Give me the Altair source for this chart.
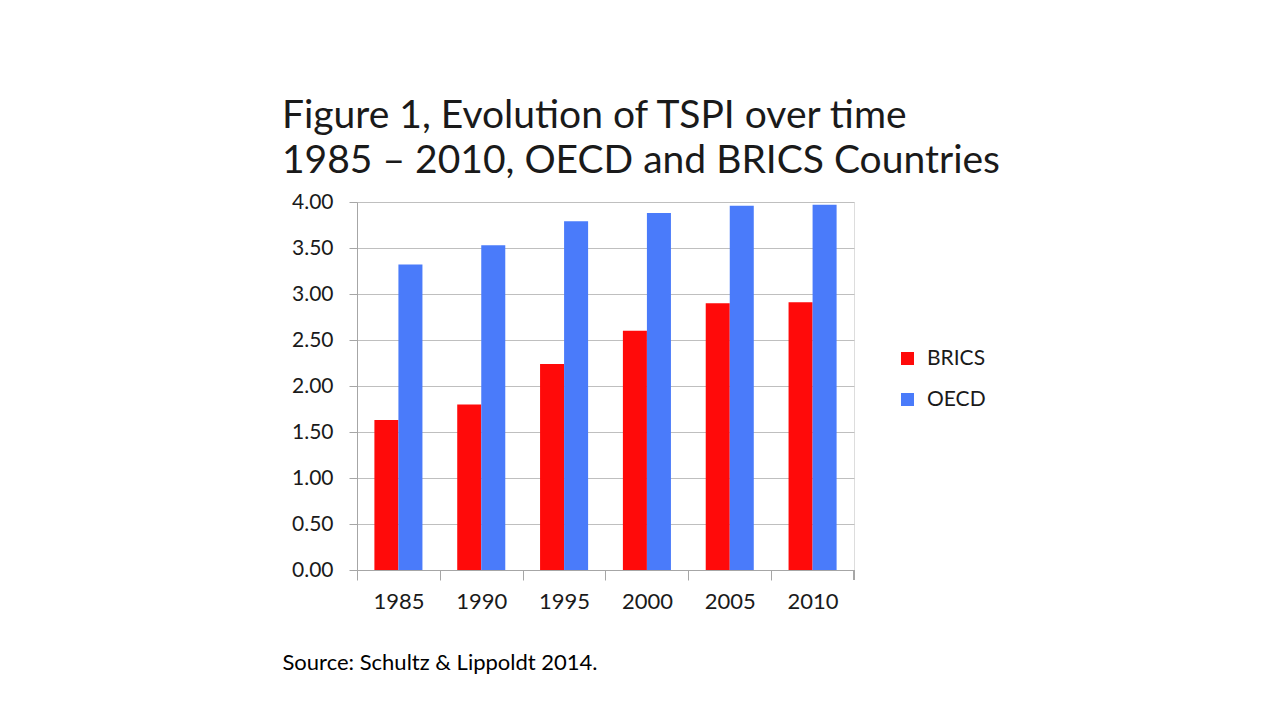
import altair as alt
import pandas as pd

years = ["1985", "1990", "1995", "2000", "2005", "2010"]
brics = [1.63, 1.80, 2.24, 2.60, 2.90, 2.91]
oecd = [3.32, 3.53, 3.79, 3.88, 3.96, 3.97]
series = ["BRICS", "OECD"]
colors = ["#FF0A0A", "#4A7BFA"]
title_lines = ["Figure 1, Evolution of TSPI over time", "1985 – 2010, OECD and BRICS Countries"]
source = "Source: Schultz & Lippoldt 2014."

rows = []
for i, y in enumerate(years):
    rows.append({"year": y, "series": "BRICS", "value": brics[i]})
    rows.append({"year": y, "series": "OECD", "value": oecd[i]})
df = pd.DataFrame(rows)

FONT = "Lato"
W, H = 497, 368
PL, PT = 349, 194
STEP = W / 6.0

bars = alt.Chart(df).mark_bar().encode(
    x=alt.X("year:N", sort=years,
            scale=alt.Scale(paddingInner=0.42, paddingOuter=0.21),
            axis=alt.Axis(title=source, labelAngle=0, labelFontSize=22, labelFont=FONT,
                          labelColor="#1a1a1a", labelPadding=11, domainColor="#A6A6A6",
                          tickColor="#A6A6A6", tickSize=10,
                          tickOffset=-STEP / 2, labelOffset=STEP / 2,
                          titleFont=FONT, titleFontSize=22, titleFontWeight="normal",
                          titleColor="#000000", titleAnchor="start", titleAlign="left",
                          titleX=-75, titleY=99, titleBaseline="alphabetic")),
    xOffset=alt.XOffset("series:N", sort=series),
    y=alt.Y("value:Q", scale=alt.Scale(domain=[0, 4]),
            axis=alt.Axis(title=None, values=[0, 0.5, 1, 1.5, 2, 2.5, 3, 3.5, 4], format=".2f",
                          labelFontSize=21, labelFont=FONT, labelColor="#1a1a1a",
                          ticks=True, tickSize=8, tickColor="#A6A6A6", labelPadding=16,
                          domainColor="#A6A6A6", gridColor="#BFBFBF", gridWidth=1.2)),
    color=alt.Color("series:N", sort=series, scale=alt.Scale(domain=series, range=colors),
                    legend=alt.Legend(title=None, orient="none", legendX=540, legendY=146,
                                      padding=0, symbolType="square", symbolSize=169,
                                      symbolStrokeWidth=0,
                                      labelFontSize=21, labelFont=FONT, labelColor="#1a1a1a",
                                      rowPadding=19, labelOffset=9)),
)

end_tick = alt.Chart(df).mark_rule(color="#A6A6A6", strokeWidth=1).encode(
    x=alt.value(W), y=alt.value(H), y2=alt.value(H + 10)
)

chart = alt.layer(bars, end_tick).properties(
    width=W, height=H,
    title=alt.Title(title_lines, anchor="start", frame="group", dx=-75, fontSize=39, font=FONT,
                    fontWeight="normal", color="#1a1a1a", lineHeight=45, offset=10),
    autosize=alt.AutoSizeParams(type="none"),
    padding={"left": PL, "top": PT, "right": 1264 - PL - W, "bottom": 704 - PT - H},
).configure_view(stroke=None).configure(background="white")

chart.save("out.html", embed_options={"renderer": "svg", "actions": False})
